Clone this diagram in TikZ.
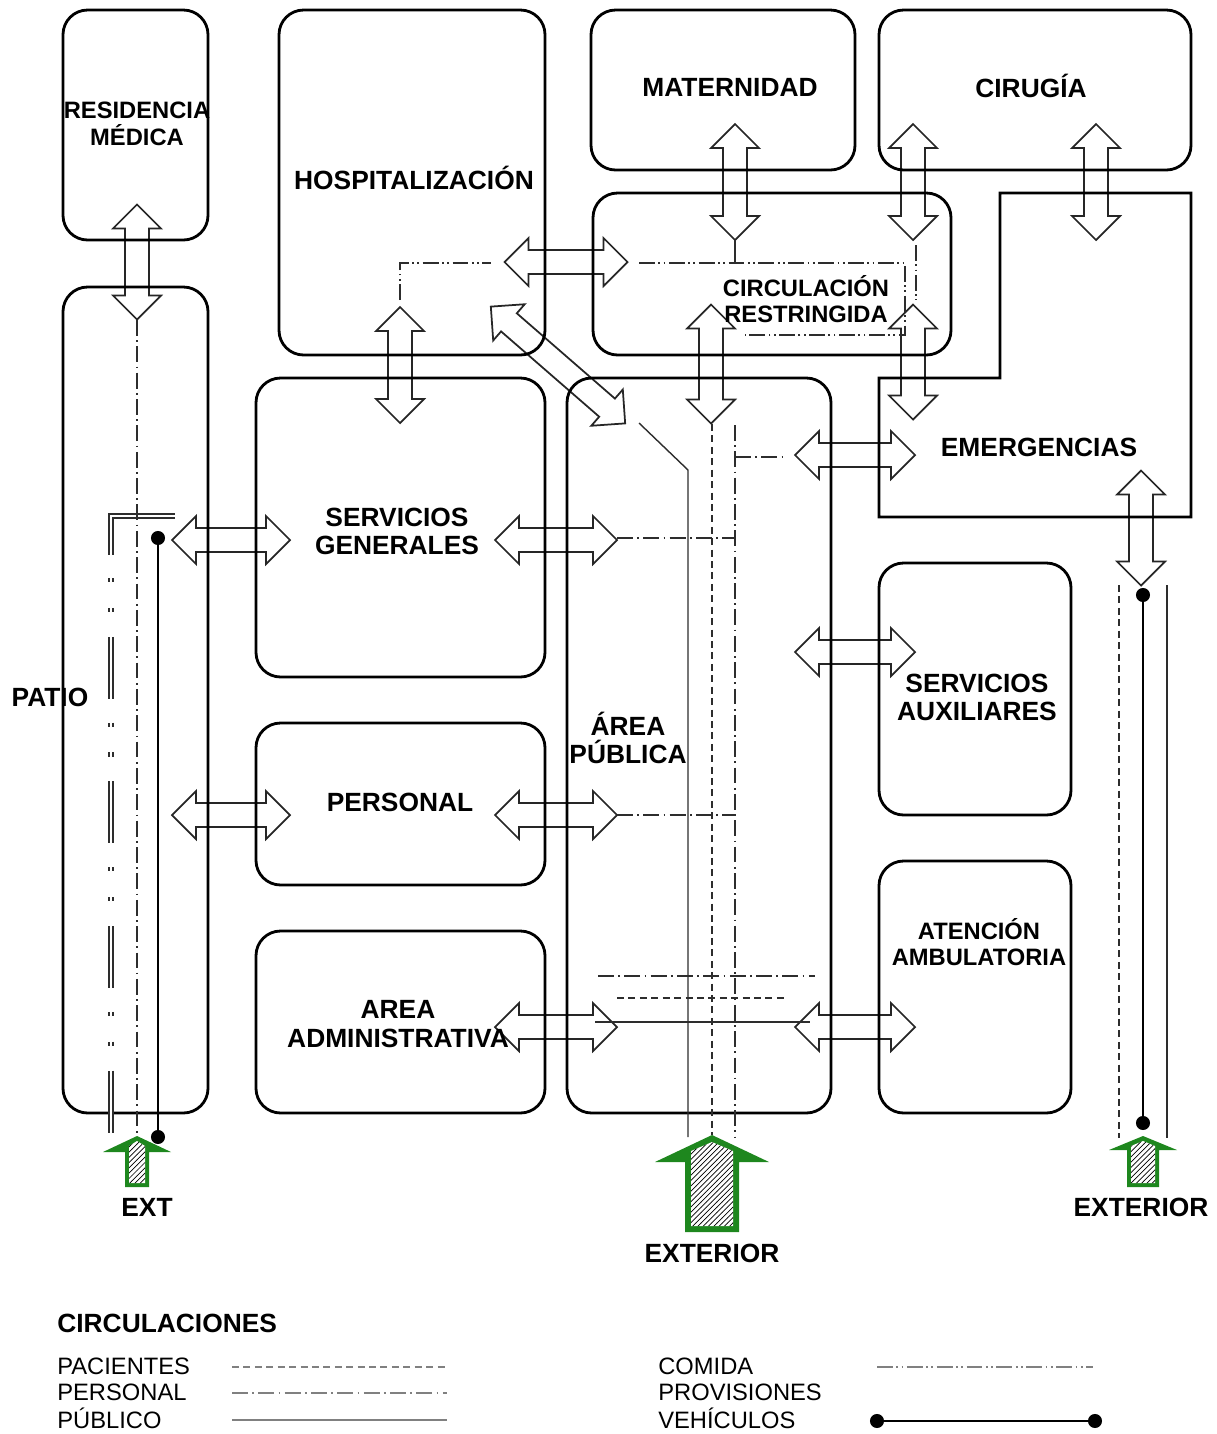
\documentclass[tikz,border=0pt]{standalone}
\usepackage{fontspec}
\setmainfont{Liberation Sans}
\usetikzlibrary{patterns}

\definecolor{extgreen}{RGB}{30,135,30}
\definecolor{linea}{RGB}{45,45,45}

% double block arrow: centre x, centre y, length, angle
\newcommand{\dflecha}[4]{%
  \begin{scope}[shift={(#1,#2)}, rotate=#4]
    \draw[flow] (-#3/2,0) -- ++(24,24) -- ++(0,-12) -- (#3/2-24,12) -- ++(0,12) -- (#3/2,0)
      -- ++(-24,-24) -- ++(0,12) -- (-#3/2+24,-12) -- ++(0,-12) -- cycle;
  \end{scope}}

\tikzset{
  room/.style={line width=1.6pt, rounded corners=14pt},
  flow/.style={draw=black!85, fill=white, line width=1pt},
  lbl/.style={font=\fontsize{15}{16}\selectfont\bfseries, align=center, inner sep=0pt},
  lblsm/.style={font=\fontsize{13.5}{15}\selectfont\bfseries, align=center, inner sep=0pt},
  legtxt/.style={font=\fontsize{13.5}{14.7}\selectfont, anchor=west, inner sep=0pt},
  pacientes/.style={draw=linea, line width=0.8pt, dash pattern=on 4pt off 2.5pt},
  personal/.style={draw=linea, line width=0.8pt, dash pattern=on 9pt off 2.5pt on 1pt off 2.5pt},
  publico/.style={draw=linea, line width=0.8pt},
  comida/.style={draw=linea, line width=0.8pt, dash pattern=on 9pt off 2pt on 1pt off 2pt on 1pt off 2pt},
  provisiones/.style={draw=linea, double, line width=1.1pt, double distance=1.2pt},
  vehiculos/.style={line width=1.1pt},
  vehdot/.style={circle, fill=black, inner sep=0pt, minimum size=8pt},
  salidafill/.style={fill=white, postaction={pattern=north east lines}},
}

\begin{document}
\begin{tikzpicture}[x=0.02cm, y=-0.02cm]
  \useasboundingbox (0,0) rectangle (1217,1434);

  % flows between areas
  \dflecha{137}{262}{115}{90}
  \dflecha{566}{262}{123}{0}
  \dflecha{735}{182}{116}{90}
  \dflecha{913}{182}{116}{90}
  \dflecha{1096}{182}{116}{90}
  \dflecha{400}{365}{116}{90}
  \dflecha{558}{365}{178}{-41}
  \dflecha{711}{364}{119}{90}
  \dflecha{913}{362}{115}{90}
  \dflecha{1141}{528}{115}{90}
  \foreach \x/\y in {231/540, 231/815}
    \dflecha{\x}{\y}{118}{0};
  \foreach \x/\y in {556/540, 556/815, 556/1027}
    \dflecha{\x}{\y}{122}{0};
  \foreach \x/\y in {855/455, 855/652, 855/1027}
    \dflecha{\x}{\y}{120}{0};

  % areas
  \draw[room] (63,10) rectangle (208,240);     % residencia
  \draw[room] (63,287) rectangle (208,1113);   % patio side
  \draw[room] (279,10) rectangle (545,355);    % hospitalizacion
  \draw[room] (591,10) rectangle (855,170);    % maternidad
  \draw[room] (879,10) rectangle (1191,170);   % cirugia
  \draw[room] (593,193) rectangle (951,355);   % circ. restringida
  % emergencias (outline as a filled band)
  \fill[even odd rule] (998.6,191.6) -- (1192.4,191.6) -- (1192.4,518.4) -- (877.6,518.4) -- (877.6,376.6) -- (998.6,376.6) -- cycle
    (1001.4,194.4) -- (1189.6,194.4) -- (1189.6,515.6) -- (880.4,515.6) -- (880.4,379.4) -- (1001.4,379.4) -- cycle;
  \draw[room] (256,378) rectangle (545,677);   % servicios generales
  \draw[room] (567,378) rectangle (831,1113);  % area publica
  \draw[room] (256,723) rectangle (545,885);   % personal
  \draw[room] (256,931) rectangle (545,1113);  % administrativa
  \draw[room] (879,563) rectangle (1071,815);  % auxiliares
  \draw[room] (879,861) rectangle (1071,1113); % ambulatoria

  % circulations
  \draw[provisiones] (175,516) -- (111,516) -- (111,555);
  \draw[provisiones, dash pattern=on 2.3pt off 14.7pt on 2.3pt off 14.2pt on 35.2pt off 13.6pt] (111,578) -- (111,1137);
  \draw[personal] (137,320) -- (137,1135);
  \draw[personal] (735,425) -- (735,1137);
  \draw[personal] (735,457) -- (782,457);
  \draw[personal] (617,538) -- (735,538);
  \draw[personal] (617,815) -- (735,815);
  \draw[personal] (598,976) -- (815,976);
  \draw[pacientes] (712,424) -- (712,1135);
  \draw[pacientes] (617,998) -- (785,998);
  \draw[pacientes] (1119,585) -- (1119,1138);
  \draw[publico] (639,423) -- (688,470) -- (688,1137);
  \draw[publico] (595,1022) -- (810,1022);
  \draw[publico] (1167,585) -- (1167,1138);
  \draw[publico] (735,240) -- (735,262);
  \draw[comida] (400,300) -- (400,263) -- (491,263);
  \draw[comida] (639,263) -- (905,263) -- (905,335) -- (745,335);
  \draw[comida] (916,245) -- (916,300);

  % vehicles
  \node[vehdot] (vl1) at (158,538) {};
  \node[vehdot] (vl2) at (158,1137) {};
  \draw[vehiculos] (vl1) -- (vl2);
  \node[vehdot] (vr1) at (1143,595) {};
  \node[vehdot] (vr2) at (1143,1123) {};
  \draw[vehiculos] (vr1) -- (vr2);

  % exits
  \fill[extgreen] (125,1187) -- (125,1152) -- (103,1152) -- (137,1136) -- (171,1152) -- (149,1152) -- (149,1187) -- cycle;
  \path[salidafill] (129,1183) -- (129,1146) -- (137,1141) -- (145,1146) -- (145,1183) -- cycle;
  \fill[extgreen] (685,1232) -- (685,1162) -- (655,1162) -- (712,1135) -- (769,1162) -- (739,1162) -- (739,1232) -- cycle;
  \path[salidafill] (691,1226) -- (691,1151) -- (712,1142) -- (733,1151) -- (733,1226) -- cycle;
  \fill[extgreen] (1127,1187) -- (1127,1150) -- (1109,1150) -- (1143,1136) -- (1177,1150) -- (1159,1150) -- (1159,1187) -- cycle;
  \path[salidafill] (1131,1183) -- (1131,1146) -- (1143,1141) -- (1155,1146) -- (1155,1183) -- cycle;

  % labels
  \node[lblsm] (resid) at (137,124) {RESIDENCIA\\MÉDICA};
  \node[lbl] (hosp) at (414,178) {HOSPITALIZACIÓN};
  \node[lbl] (mater) at (730,87) {MATERNIDAD};
  \node[lbl] (cirug) at (1031,86) {CIRUGÍA};
  \node[lblsm] (circ) at (806,299) {CIRCULACIÓN\\RESTRINGIDA};
  \node[lbl] (emerg) at (1039,447) {EMERGENCIAS};
  \node[lbl] (servgen) at (397,531) {SERVICIOS\\GENERALES};
  \node[lbl] (pub) at (628,738) {ÁREA\\PÚBLICA};
  \node[lbl] (aux) at (977,697) {SERVICIOS\\AUXILIARES};
  \node[lbl] (pers) at (400,802) {PERSONAL};
  \node[lblsm] (aten) at (979,942) {ATENCIÓN\\AMBULATORIA};
  \node[lbl] (admin) at (398,1024) {AREA\\ADMINISTRATIVA};
  \node[lbl] (patio) at (50,697) {PATIO};
  \node[lbl] (ext1) at (147,1207) {EXT};
  \node[lbl] (ext2) at (712,1253) {EXTERIOR};
  \node[lbl] (ext3) at (1141,1207) {EXTERIOR};

  % legend
  \node[lbl, anchor=west] (leyenda) at (57,1323) {CIRCULACIONES};
  \node[legtxt] (lpac) at (57,1366) {PACIENTES};
  \node[legtxt] (lper) at (57,1392) {PERSONAL};
  \node[legtxt] (lpub) at (57,1418) {PÚBLICO};
  \node[legtxt] (lcom) at (658,1366) {COMIDA};
  \node[legtxt] (lpro) at (658,1392) {PROVISIONES};
  \node[legtxt] (lveh) at (658,1418) {VEHÍCULOS};
  \draw[pacientes, draw=gray] (232,1367) -- (447,1367);
  \draw[personal, draw=gray] (232,1393) -- (447,1393);
  \draw[publico, draw=gray, line width=1pt] (232,1420) -- (447,1420);
  \draw[comida, draw=gray] (877,1367) -- (1093,1367);
  \node[vehdot] (lv1) at (877,1421) {};
  \node[vehdot] (lv2) at (1095,1421) {};
  \draw[vehiculos] (lv1) -- (lv2);
\end{tikzpicture}
\end{document}
